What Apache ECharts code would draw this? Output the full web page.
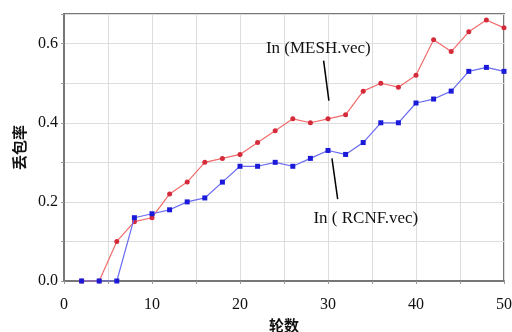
<!DOCTYPE html>
<html>
<head>
<meta charset="utf-8">
<script src="https://cdn.jsdelivr.net/npm/echarts@6/dist/echarts.min.js"></script>
<style>
  html, body { margin: 0; padding: 0; background: #fff; }
  #chart { width: 512px; height: 332px; }
</style>
</head>
<body>
<div id="chart"></div>
<script>
// 轮数
const rounds = [2, 4, 6, 8, 10, 12, 14, 16, 18, 20, 22, 24, 26, 28, 30, 32, 34, 36, 38, 40, 42, 44, 46, 48, 50];
// 丢包率
const meshLoss = [0, 0, 0.10, 0.15, 0.16, 0.22, 0.25, 0.30, 0.31, 0.32, 0.35, 0.38, 0.41, 0.40, 0.41, 0.42, 0.48, 0.50, 0.49, 0.52, 0.61, 0.58, 0.63, 0.66, 0.64];
const rcnfLoss = [0, 0, 0, 0.16, 0.17, 0.18, 0.20, 0.21, 0.25, 0.29, 0.29, 0.30, 0.29, 0.31, 0.33, 0.32, 0.35, 0.40, 0.40, 0.45, 0.46, 0.48, 0.53, 0.54, 0.53];
const seriesNames = ['In (MESH.vec)', 'In ( RCNF.vec)'];
// 标注 [文字位置, 引线起点, 引线终点]
const meshNote = [[28.9, 0.587], [29.5, 0.557], [30.1, 0.456]];
const rcnfNote = [[34.3, 0.159], [30.45, 0.31], [31.1, 0.207]];

const chart = echarts.init(document.getElementById('chart'));

const serif = '"Liberation Serif", "DejaVu Serif", serif';

const note = (pts, text) => ({
  markPoint: {
    symbol: 'rect',
    symbolSize: 1,
    itemStyle: { color: 'transparent' },
    label: {
      show: true,
      formatter: text,
      color: '#111',
      fontFamily: serif,
      fontSize: 17,
      position: 'inside'
    },
    data: [{ coord: pts[0] }]
  },
  markLine: {
    silent: true,
    symbol: 'none',
    label: { show: false },
    lineStyle: { color: '#000', width: 1.5, type: 'solid' },
    data: [[{ coord: pts[1] }, { coord: pts[2] }]]
  }
});

const option = {
  animation: false,
  grid: {
    left: 64,
    right: 8,
    top: 14,
    bottom: 51,
    outerBoundsMode: 'none',
    containLabel: false,
    show: true,
    borderColor: '#777',
    borderWidth: 2,
    backgroundColor: '#fff'
  },
  xAxis: {
    type: 'value',
    min: 0,
    max: 50,
    interval: 5,
    name: '轮数',
    nameLocation: 'middle',
    nameGap: 36,
    nameTextStyle: { fontFamily: '"Noto Sans CJK SC"', fontSize: 15, fontWeight: 'bold', color: '#111' },
    axisLine: { show: true, lineStyle: { color: '#777', width: 2 } },
    axisTick: { show: true, length: 3, lineStyle: { color: '#999' } },
    axisLabel: {
      fontFamily: serif,
      fontSize: 16,
      color: '#111',
      margin: 16,
      formatter: v => (v % 10 === 0 ? String(v) : '')
    },
    splitLine: { show: true, lineStyle: { color: '#ddd' } }
  },
  yAxis: {
    type: 'value',
    min: 0,
    max: 0.675,
    interval: 0.1,
    name: '丢包率',
    nameLocation: 'middle',
    nameRotate: 90,
    nameGap: 36,
    nameTextStyle: { fontFamily: '"Noto Sans CJK SC"', fontSize: 15, fontWeight: 'bold', color: '#111' },
    axisLine: { show: true, lineStyle: { color: '#777', width: 2 } },
    axisTick: { show: true, length: 3, lineStyle: { color: '#999' } },
    axisLabel: {
      fontFamily: serif,
      fontSize: 16,
      color: '#111',
      margin: 6,
      formatter: v => {
        const r = Math.round(v * 10);
        return r % 2 === 0 ? (r / 10).toFixed(1) : '';
      }
    },
    splitLine: { show: true, lineStyle: { color: '#ddd' } }
  },
  series: [
    Object.assign({
      name: seriesNames[0],
      type: 'line',
      data: rounds.map((x, i) => [x, meshLoss[i]]),
      symbol: 'circle',
      symbolSize: 5,
      lineStyle: { color: '#f26b6b', width: 1.2 },
      itemStyle: { color: '#d42a3a' },
      z: 2
    }, note(meshNote, seriesNames[0])),
    Object.assign({
      name: seriesNames[1],
      type: 'line',
      data: rounds.map((x, i) => [x, rcnfLoss[i]]),
      symbol: 'rect',
      symbolSize: 5,
      lineStyle: { color: '#6a6af2', width: 1.2 },
      itemStyle: { color: '#1a1ad8' },
      z: 3
    }, note(rcnfNote, seriesNames[1]))
  ]
};

chart.setOption(option);
</script>
</body>
</html>
